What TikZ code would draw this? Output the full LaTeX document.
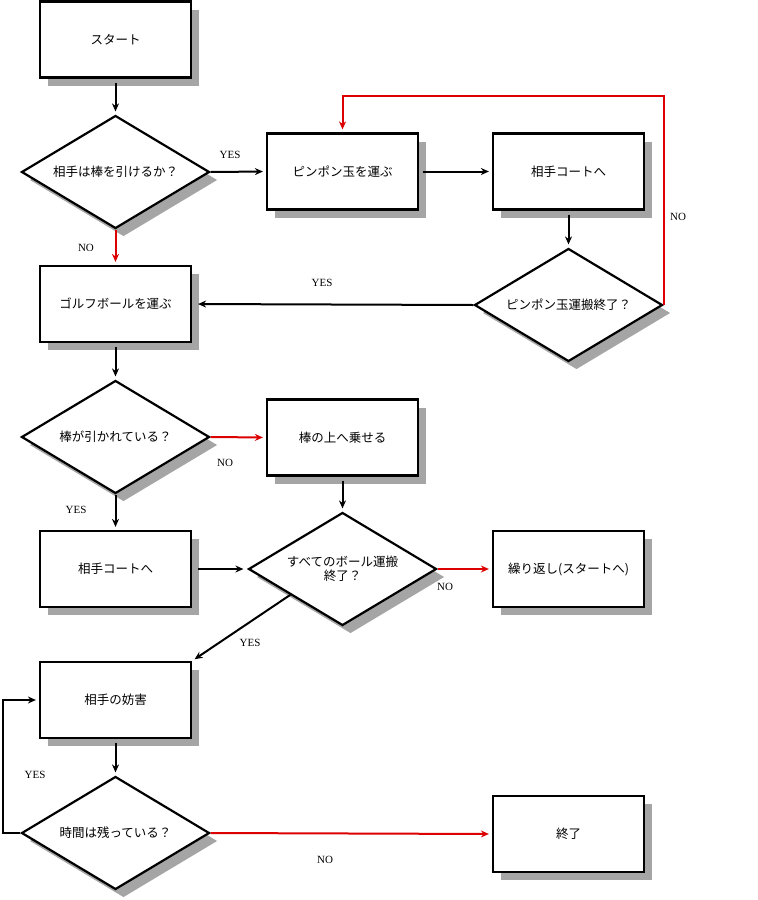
\documentclass[tikz,border=0pt]{standalone}
\usepackage{fontspec}
\newfontfamily\jp{Noto Sans CJK JP}
\newfontfamily\lab{Liberation Serif}
\usetikzlibrary{shapes.geometric,shadows,arrows.meta,calc}
\definecolor{shd}{RGB}{165,165,165}
\definecolor{rd}{RGB}{220,0,0}
\tikzset{
  sh/.style={drop shadow={shadow xshift=8pt,shadow yshift=-8pt,fill=shd,opacity=1}},
  boxn/.style={draw,line width=2.2pt,fill=white,minimum width=151pt,minimum height=76pt,inner sep=0pt,font=\jp\fontsize{12.5}{15}\selectfont,sh},
  dia/.style={draw,line width=2.2pt,fill=white,shape=diamond,minimum width=188pt,minimum height=113pt,inner sep=0pt,sh},
  dtxt/.style={font=\jp\fontsize{12.5}{14}\selectfont,align=center},
  arr/.style={line width=2pt,-{Stealth[length=8pt,width=7pt]},shorten >=3pt},
  rarr/.style={arr,draw=rd},
  lbl/.style={font=\lab\fontsize{11}{13}\selectfont}
}
\begin{document}
\begin{tikzpicture}[x=1pt,y=-1pt]
\useasboundingbox[fill=white] (0,0) rectangle (758,900);
% boxes
\node[boxn] (start) at (115.5,39.5) {スタート};
\node[boxn] (ping) at (342.5,171.5) {ピンポン玉を運ぶ};
\node[boxn] (aite1) at (568.5,171.5) {相手コートへ};
\node[boxn] (golf) at (115.5,304) {ゴルフボールを運ぶ};
\node[boxn] (bou) at (342.5,437.5) {棒の上へ乗せる};
\node[boxn] (aite2) at (115.5,569) {相手コートへ};
\node[boxn] (kuri) at (568.5,569) {繰り返し(スタートへ)};
\node[boxn] (bougai) at (115.5,700) {相手の妨害};
\node[boxn] (fin) at (568.5,834) {終了};
% diamonds
\node[dia] (d1) at (115.5,172) {};
\node[dtxt] at (d1) {相手は棒を引けるか？};
\node[dia] (d2) at (568.5,305) {};
\node[dtxt] at (d2) {ピンポン玉運搬終了？};
\node[dia] (d3) at (115.5,437) {};
\node[dtxt] at (d3) {棒が引かれている？};
\node[dia] (d4) at (342.5,569) {};
\node[dtxt] at (d4) {すべてのボール運搬\\終了？};
\node[dia] (d5) at (115.5,833) {};
\node[dtxt] at (d5) {時間は残っている？};
% connectors
\coordinate (loopy) at (0,96);
\coordinate (loopx) at (3,0);
\draw[arr,shorten <=4pt] (start) -- (d1);
\draw[arr] (d1.east) -- (ping.west);
\draw[rarr] (d1.south) -- (golf.north);
\draw[arr,shorten <=4pt] (ping.east) -- (aite1.west);
\draw[arr,shorten <=4pt] (aite1.south) -- (d2.north);
\draw[rarr] (d2.east) -- (d2.east |- loopy) -| (ping.north);
\draw[arr,shorten >=6pt] (d2.west) -- (golf.east);
\draw[arr,shorten <=4pt] (golf.south) -- (d3.north);
\draw[rarr] (d3.east) -- (bou.west);
\draw[arr] (d3.south) -- (aite2.north);
\draw[arr,shorten <=4pt] (bou.south) -- (d4.north);
\draw[arr,shorten <=6pt,shorten >=4pt] (aite2.east) -- (d4.west);
\draw[rarr] (d4.east) -- (kuri.west);
\draw[arr] ($(d4.west)!0.45!(d4.south)$) -- (bougai.north east);
\draw[arr,shorten <=4pt] (bougai.south) -- (d5.north);
\draw[arr] (d5.west) -- (loopx |- d5.west) |- (bougai.west);
\draw[rarr] (d5.east) -- (fin.west);
% labels
\node[lbl] at (230,155) {YES};
\node[lbl] at (86,248) {NO};
\node[lbl] at (678,217) {NO};
\node[lbl] at (322,283) {YES};
\node[lbl] at (225,463) {NO};
\node[lbl] at (76,510) {YES};
\node[lbl] at (445,587) {NO};
\node[lbl] at (250,643) {YES};
\node[lbl] at (35,775) {YES};
\node[lbl] at (325,860) {NO};
\end{tikzpicture}
\end{document}
